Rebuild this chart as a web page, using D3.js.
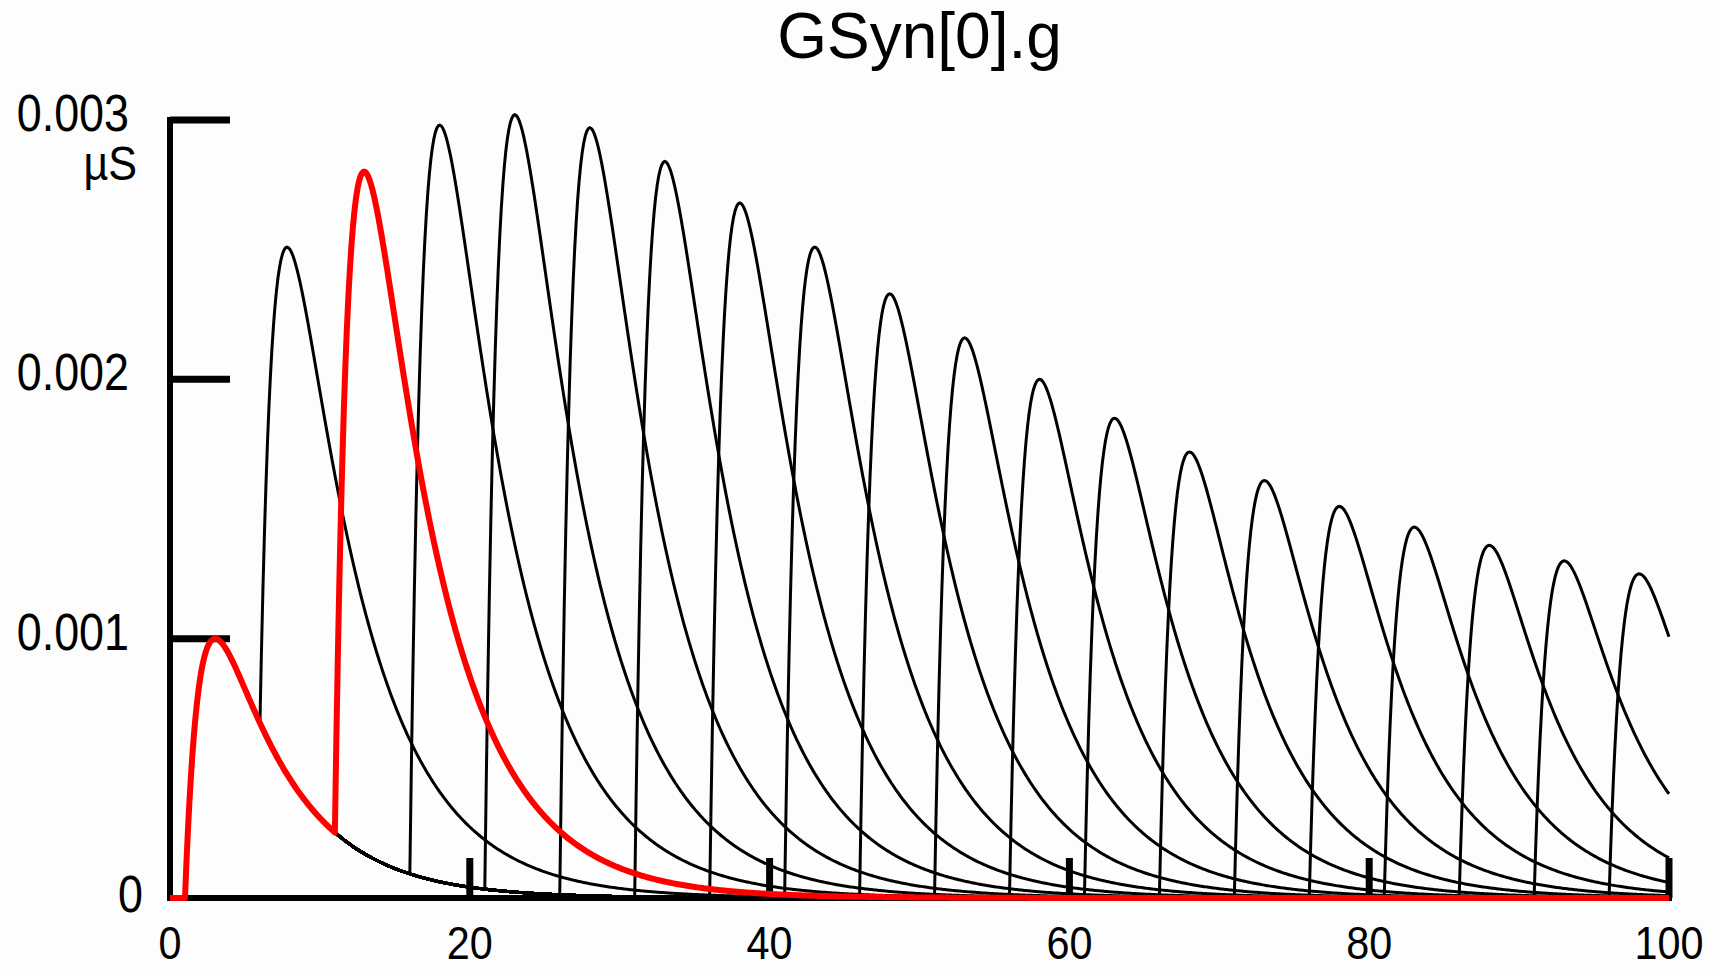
<!DOCTYPE html>
<html>
<head>
<meta charset="utf-8">
<script src="https://cdn.jsdelivr.net/npm/d3@7"></script>
<style>
  html, body { margin: 0; padding: 0; background: #fcfdfc; }
  svg { display: block; }
  text { font-family: "Liberation Sans", Arial, Helvetica, sans-serif; fill: #000; }
</style>
</head>
<body>
<div id="chart"></div>
<script>
// first stimulus, same for every run
var firstOnset = 1;
var firstPeak = 0.001;

// second stimulus of each run (ms) and the peak g reached after it (uS)
var secondOnsets = [6, 11, 16, 21, 26, 31, 36, 41, 46, 51, 56, 61, 66, 71, 76, 81, 86, 91, 96];
var secondPeaks = [0.00250, 0.00280, 0.00298, 0.00302, 0.00297, 0.00284, 0.00268, 0.00251, 0.00233,
                   0.00216, 0.00200, 0.00185, 0.00172, 0.00161, 0.00151, 0.00143, 0.00136, 0.00130, 0.00125];
var redOnset = 11; // run drawn in red

// synapse time constants (ms)
var tauRise = 1;
var tauDecay = 5;

var xTicks = [0, 20, 40, 60, 80, 100];
var yTicks = [0.001, 0.002, 0.003];
var yTickLabels = ["0.001", "0.002", "0.003"];
var title = "GSyn[0].g";
var units = "\u00b5S";

var width = 1719, height = 969;
var tStop = 100, dt = 0.1;

var svg = d3.select("#chart").append("svg")
    .attr("width", width)
    .attr("height", height);

var x = d3.scaleLinear().domain([0, 100]).range([170, 1669]);
var y = d3.scaleLinear().domain([0, 0.003]).range([898, 120]);

// normalised double exponential, peak = 1
var tPeak = tauRise * tauDecay / (tauDecay - tauRise) * Math.log(tauDecay / tauRise);
var kMax = Math.exp(-tPeak / tauDecay) - Math.exp(-tPeak / tauRise);
function kernel(s) {
    if (s <= 0) return 0;
    return (Math.exp(-s / tauDecay) - Math.exp(-s / tauRise)) / kMax;
}

function runTrace(t2, peak) {
    var amp2 = peak - firstPeak * kernel(t2 + tPeak - firstOnset);
    var pts = [];
    for (var i = 0; i <= tStop / dt; i++) {
        var t = i * dt;
        pts.push([t, firstPeak * kernel(t - firstOnset) + amp2 * kernel(t - t2)]);
    }
    return pts;
}

var runs = secondOnsets.map(function (t2, i) {
    return { onset: t2, points: runTrace(t2, secondPeaks[i]) };
});

var line = d3.line()
    .x(function (d) { return x(d[0]); })
    .y(function (d) { return y(d[1]); });

// axes (drawn under the traces)
var axes = svg.append("g").attr("stroke", "#000").attr("stroke-linecap", "butt");

axes.append("line")
    .attr("x1", x(0)).attr("x2", x(100) + 3)
    .attr("y1", y(0)).attr("y2", y(0))
    .attr("stroke-width", 6);

axes.selectAll(".xtick")
    .data(xTicks.filter(function (d) { return d > 0; }))
    .enter().append("line")
    .attr("class", "xtick")
    .attr("x1", function (d) { return x(d); })
    .attr("x2", function (d) { return x(d); })
    .attr("y1", y(0)).attr("y2", y(0) - 40)
    .attr("stroke-width", 7);

axes.append("line")
    .attr("x1", x(0)).attr("x2", x(0))
    .attr("y1", y(0) + 3).attr("y2", y(0.003) - 3)
    .attr("stroke-width", 6);

axes.selectAll(".ytick")
    .data(yTicks)
    .enter().append("line")
    .attr("class", "ytick")
    .attr("x1", x(0)).attr("x2", x(0) + 60)
    .attr("y1", function (d) { return y(d); })
    .attr("y2", function (d) { return y(d); })
    .attr("stroke-width", 7);

// traces
svg.append("g")
    .selectAll("path")
    .data(runs.filter(function (r) { return r.onset !== redOnset; }))
    .enter().append("path")
    .attr("d", function (r) { return line(r.points); })
    .attr("fill", "none")
    .attr("stroke", "#000")
    .attr("stroke-width", 3);

svg.append("path")
    .datum(runs.filter(function (r) { return r.onset === redOnset; })[0].points)
    .attr("d", line)
    .attr("fill", "none")
    .attr("stroke", "#ff0000")
    .attr("stroke-width", 6)
    .attr("stroke-linejoin", "round");

// labels
svg.append("text")
    .attr("x", (x(0) + x(100)) / 2)
    .attr("y", 58)
    .attr("text-anchor", "middle")
    .attr("font-size", 64)
    .text(title);

function narrow(sel, px, py) {
    sel.attr("transform", "translate(" + px + "," + py + ") scale(0.88,1)");
}

svg.selectAll(".xlabel")
    .data(xTicks)
    .enter().append("text")
    .attr("class", "xlabel")
    .attr("text-anchor", "middle")
    .attr("font-size", 47)
    .text(function (d) { return d; })
    .each(function (d) { narrow(d3.select(this), x(d), 959); });

svg.selectAll(".ylabel")
    .data(yTicks)
    .enter().append("text")
    .attr("class", "ylabel")
    .attr("text-anchor", "end")
    .attr("font-size", 51)
    .text(function (d, i) { return yTickLabels[i]; })
    .each(function (d) { narrow(d3.select(this), 129, y(d) + 11); });

narrow(svg.append("text")
    .attr("text-anchor", "end")
    .attr("font-size", 51)
    .text("0"), 143, y(0) + 14);

narrow(svg.append("text")
    .attr("text-anchor", "end")
    .attr("font-size", 49)
    .text(units), 137, 180);
</script>
</body>
</html>
